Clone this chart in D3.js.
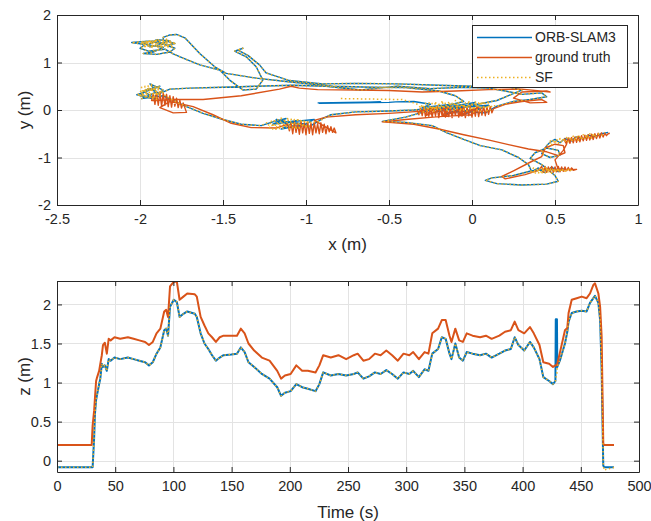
<!DOCTYPE html>
<html>
<head>
<meta charset="utf-8">
<script src="https://cdn.jsdelivr.net/npm/d3@7"></script>
<style>
  body { margin: 0; background: #fff; }
  svg { display: block; }
  text { font-family: "Liberation Sans", Arial, Helvetica, sans-serif; fill: #262626; }
</style>
</head>
<body>
<svg id="chart" width="651" height="521"></svg>
<script>
// ---- series names ----
const seriesNames = ["ORB-SLAM3", "ground truth", "SF"];

// ---- tick values ----
const xTicksTop = [-2.5, -2, -1.5, -1, -0.5, 0, 0.5, 1];
const yTicksTop = [-2, -1, 0, 1, 2];
const timeTicks = [0, 50, 100, 150, 200, 250, 300, 350, 400, 450, 500];
const zTicks = [0, 0.5, 1, 1.5, 2];

// ---- planar trajectory (x, y in metres) ----
const orbXY = [
  [-0.93,0.15],[-0.75,0.16],[-0.55,0.17],[-0.92,0.14],[-0.7,0.15],[-0.5,0.16],[-0.46,0.17],[-0.35,0.18],[-0.25,0.12],
  [-0.3,0.05],[-0.12,0.12],[-0.22,-0.04],[-0.02,0.08],[-0.16,-0.08],[0.06,0.04],[-0.06,-0.1],[0.1,0.1],[-0.26,0.0],[0.02,0.16],[-0.1,-0.02],[0.08,-0.06],
  [0.15,0.08],[0.25,0.18],[0.35,0.22],[0.45,0.28],[0.42,0.36],[0.3,0.33],[0.2,0.4],[0.1,0.46],
  [-0.05,0.48],[-0.25,0.45],[-0.45,0.5],[-0.67,0.42],[-0.88,0.5],[-1.08,0.52],[-1.3,0.5],[-1.5,0.48],[-1.7,0.46],[-1.82,0.44],
  [-1.88,0.35],[-1.95,0.45],[-2.0,0.3],[-1.9,0.22],[-1.98,0.4],[-1.88,0.5],[-2.02,0.32],[-1.92,0.26],[-1.86,0.42],[-1.94,0.55],[-1.9,0.38],[-1.99,0.24],[-1.86,0.3],
  [-1.8,0.2],[-1.72,0.07],[-1.62,-0.07],[-1.5,-0.2],[-1.39,-0.3],[-1.27,-0.33],[-1.2,-0.25],
  [-1.12,-0.18],[-1.2,-0.3],[-1.05,-0.22],[-1.15,-0.4],[-1.0,-0.3],[-1.1,-0.25],[-0.95,-0.2],[-1.05,-0.38],[-1.18,-0.2],[-0.98,-0.35],[-0.9,-0.18],
  [-0.85,-0.1],[-0.7,-0.04],[-0.5,-0.02],[-0.35,0.0],[-0.2,0.05],[0.0,0.1],[0.15,0.2],[0.3,0.42],[0.2,0.5],
  [0.0,0.5],[-0.2,0.52],[-0.45,0.55],[-0.7,0.56],[-0.9,0.55],[-1.1,0.62],[-1.24,0.78],[-1.28,0.95],[-1.35,1.15],[-1.41,1.26],[-1.38,1.3],[-1.43,1.24],
  [-1.36,1.12],[-1.3,0.91],[-1.26,0.63],[-1.3,0.44],[-1.38,0.42],[-1.46,0.63],[-1.52,0.84],[-1.64,0.95],[-1.74,1.09],[-1.8,1.18],
  [-1.85,1.28],[-1.95,1.24],[-2.0,1.3],[-1.97,1.38],[-2.05,1.42],[-1.95,1.45],[-1.87,1.4],[-1.82,1.46],[-1.9,1.48],[-1.95,1.37],[-1.86,1.32],[-1.92,1.22],
  [-1.98,1.19],[-1.9,1.17],[-1.82,1.22],[-1.79,1.3],[-1.86,1.39],[-1.94,1.33],[-1.98,1.43],[-1.9,1.46],[-1.84,1.36],[-1.79,1.4],[-1.86,1.47],
  [-1.86,1.53],[-1.82,1.58],[-1.78,1.59],[-1.73,1.52],[-1.64,1.19],[-1.55,0.91],[-1.48,0.77],[-1.3,0.67],[-1.12,0.6],[-0.84,0.5],[-0.6,0.48],[-0.4,0.47],
  [-0.2,0.4],[-0.1,0.3],[-0.05,0.18],[-0.2,0.05],[-0.4,-0.15],[-0.54,-0.24],[-0.4,-0.26],[-0.24,-0.33],[-0.15,-0.48],[-0.05,-0.62],[0.05,-0.75],[0.18,-0.84],[0.28,-1.0],[0.34,-1.15],
  [0.36,-1.3],[0.4,-1.22],[0.44,-1.32],[0.48,-1.2],[0.52,-1.3],[0.55,-1.24],[0.45,-1.26],[0.36,-1.28],
  [0.25,-1.38],[0.12,-1.43],[0.08,-1.48],[0.15,-1.55],[0.3,-1.58],[0.45,-1.56],[0.52,-1.5],[0.5,-1.38],
  [0.42,-1.15],[0.35,-1.02],[0.38,-0.9],[0.45,-0.8],[0.52,-0.85],[0.53,-0.95],[0.47,-1.0],[0.42,-0.92],[0.45,-0.75],[0.47,-0.68],
  [0.5,-0.62],[0.53,-0.69],[0.56,-0.6],[0.6,-0.65],[0.63,-0.56],[0.67,-0.61],[0.7,-0.53],[0.74,-0.56],[0.78,-0.5],[0.82,-0.47]
];

const truthXY = [
  [-0.33,0.0],[-0.32,-0.1],[-0.31,0.04],[-0.30,-0.12],[-0.29,0.05],[-0.28,-0.14],[-0.27,0.03],[-0.26,-0.13],[-0.25,0.06],[-0.24,-0.15],[-0.23,0.04],
  [-0.22,-0.12],[-0.21,0.07],[-0.20,-0.16],[-0.19,0.05],[-0.18,-0.13],[-0.17,0.08],[-0.16,-0.15],[-0.15,0.03],[-0.14,-0.14],[-0.13,0.07],[-0.12,-0.16],
  [-0.11,0.04],[-0.10,-0.12],[-0.09,0.08],[-0.08,-0.15],[-0.07,0.05],[-0.06,-0.13],[-0.05,0.09],[-0.04,-0.16],[-0.03,0.06],[-0.02,-0.12],[-0.01,0.08],
  [0.0,-0.15],[0.01,0.04],[0.02,-0.13],[0.03,0.07],[0.04,-0.14],[0.05,0.05],[0.06,-0.11],[0.07,0.08],[0.08,-0.12],[0.09,0.06],[0.10,-0.09],[0.11,0.07],
  [0.12,-0.06],[0.13,0.03],
  [0.2,0.12],[0.3,0.18],[0.42,0.22],[0.45,0.16],[0.35,0.15],[0.25,0.25],[0.3,0.38],[0.45,0.4],[0.47,0.38],[0.3,0.44],
  [0.1,0.43],[-0.1,0.4],[-0.3,0.38],[-0.5,0.41],[-0.7,0.42],[-0.93,0.43],[-1.04,0.46],[-1.09,0.5],[-1.16,0.44],[-1.39,0.3],[-1.62,0.22],[-1.8,0.22],
  [-1.93,0.2],[-1.92,0.34],[-1.91,0.12],[-1.90,0.36],[-1.89,0.1],[-1.88,0.38],[-1.87,0.08],[-1.86,0.35],[-1.85,0.1],[-1.84,0.33],[-1.83,0.07],
  [-1.82,0.3],[-1.81,0.06],[-1.80,0.28],[-1.79,0.08],[-1.78,0.25],[-1.77,0.05],[-1.76,0.2],[-1.75,0.04],[-1.74,0.15],
  [-1.72,-0.05],[-1.8,-0.06],[-1.88,0.05],[-1.82,0.18],
  [-1.68,0.07],[-1.56,-0.1],[-1.45,-0.28],[-1.33,-0.37],[-1.18,-0.38],
  [-1.11,-0.3],[-1.10,-0.44],[-1.09,-0.27],[-1.08,-0.5],[-1.07,-0.25],[-1.06,-0.47],[-1.05,-0.28],[-1.04,-0.51],[-1.03,-0.24],[-1.02,-0.48],
  [-1.01,-0.27],[-1.00,-0.52],[-0.99,-0.25],[-0.98,-0.49],[-0.97,-0.28],[-0.96,-0.52],[-0.95,-0.26],[-0.94,-0.48],[-0.93,-0.29],[-0.92,-0.5],
  [-0.91,-0.27],[-0.90,-0.47],[-0.89,-0.3],[-0.88,-0.5],[-0.87,-0.33],[-0.86,-0.46],[-0.85,-0.35],[-0.84,-0.47],[-0.83,-0.38],[-0.82,-0.48],
  [-0.95,-0.22],[-0.88,-0.15],[-0.7,-0.1],[-0.5,-0.07],[-0.32,-0.03],
  [-0.22,0.05],[-0.28,-0.12],[-0.14,0.06],[-0.18,-0.14],[-0.05,0.04],[-0.08,-0.12],[0.04,0.06],[0.0,-0.1],[-0.2,-0.14],
  [-0.4,-0.2],[-0.54,-0.25],[-0.35,-0.3],[-0.2,-0.4],[-0.05,-0.52],[0.11,-0.64],[0.22,-0.73],[0.34,-0.82],[0.45,-0.88],[0.52,-0.96],
  [0.56,-0.9],[0.55,-0.75],[0.5,-0.72],[0.44,-0.8],[0.42,-0.98],[0.35,-1.1],[0.25,-1.28],[0.18,-1.4],[0.2,-1.45],[0.32,-1.36],[0.4,-1.27],
  [0.42,-1.19],[0.43,-1.31],[0.44,-1.19],[0.45,-1.31],[0.46,-1.2],[0.47,-1.3],[0.48,-1.19],[0.49,-1.31],[0.50,-1.2],[0.51,-1.3],[0.52,-1.19],
  [0.53,-1.3],[0.54,-1.2],[0.55,-1.29],[0.56,-1.2],[0.57,-1.28],[0.58,-1.21],[0.59,-1.28],[0.60,-1.22],[0.61,-1.27],[0.63,-1.25],[0.52,-1.26],
  [0.5,-1.05],[0.55,-0.85],[0.57,-0.72],[0.56,-0.66],
  [0.56,-0.6],[0.57,-0.71],[0.58,-0.59],[0.59,-0.7],[0.60,-0.58],[0.61,-0.69],[0.62,-0.57],[0.63,-0.68],[0.64,-0.55],[0.65,-0.67],[0.66,-0.54],
  [0.67,-0.65],[0.68,-0.53],[0.69,-0.64],[0.70,-0.52],[0.71,-0.63],[0.72,-0.51],[0.73,-0.62],[0.74,-0.5],[0.75,-0.6],[0.76,-0.49],[0.77,-0.59],
  [0.78,-0.48],[0.79,-0.57],[0.80,-0.49],[0.81,-0.54],[0.82,-0.5],[0.83,-0.49]
];

const sfXY = [
  [-0.79,0.24],[-0.6,0.23],[-0.42,0.22],[-0.34,0.14],
  [-0.32,0.1],[-0.31,0.04],[-0.30,0.12],[-0.29,0.03],[-0.28,0.14],[-0.27,0.0],[-0.26,0.17],[-0.25,0.02],[-0.24,0.14],[-0.23,-0.03],[-0.22,0.18],
  [-0.21,0.0],[-0.20,0.15],[-0.19,-0.02],[-0.18,0.2],[-0.17,0.02],[-0.16,0.16],[-0.15,-0.04],[-0.14,0.18],[-0.13,0.0],[-0.12,0.14],[-0.11,-0.03],
  [-0.10,0.2],[-0.09,0.02],[-0.08,0.16],[-0.07,-0.04],[-0.06,0.18],[-0.05,0.0],[-0.04,0.15],[-0.03,-0.02],[-0.02,0.2],[-0.01,0.02],[0.0,0.16],
  [0.01,-0.04],[0.02,0.19],[0.03,0.0],[0.04,0.15],[0.05,-0.03],[0.06,0.18],[0.07,0.02],[0.08,0.14],[0.09,-0.02],[0.10,0.16],[0.11,0.0],[0.12,0.1],
  [0.15,0.08],[0.25,0.18],[0.35,0.22],[0.45,0.28],[0.42,0.36],[0.3,0.33],[0.2,0.4],[0.1,0.46],
  [-0.05,0.48],[-0.25,0.45],[-0.45,0.5],[-0.67,0.42],[-0.88,0.5],[-1.08,0.52],[-1.3,0.5],[-1.5,0.48],[-1.7,0.46],[-1.82,0.44],
  [-1.88,0.35],[-1.95,0.45],[-2.0,0.3],[-1.9,0.22],[-1.98,0.4],[-1.88,0.5],[-2.02,0.32],[-1.92,0.26],[-1.86,0.42],[-1.94,0.55],[-1.9,0.38],[-1.99,0.24],
  [-2.0,0.34],[-1.99,0.48],[-1.98,0.28],[-1.97,0.5],[-1.96,0.3],[-1.95,0.52],[-1.94,0.27],[-1.93,0.5],[-1.92,0.3],[-1.91,0.47],[-1.90,0.26],
  [-1.89,0.44],[-1.88,0.3],[-1.87,0.42],[-1.86,0.33],
  [-1.8,0.2],[-1.72,0.07],[-1.62,-0.07],[-1.5,-0.2],[-1.39,-0.3],[-1.27,-0.33],
  [-1.23,-0.26],[-1.22,-0.38],[-1.21,-0.22],[-1.20,-0.4],[-1.19,-0.19],[-1.18,-0.42],[-1.17,-0.2],[-1.16,-0.39],[-1.15,-0.17],[-1.14,-0.41],
  [-1.13,-0.19],[-1.12,-0.38],[-1.11,-0.16],[-1.10,-0.4],[-1.09,-0.18],[-1.08,-0.37],[-1.07,-0.2],[-1.06,-0.41],[-1.05,-0.17],[-1.04,-0.38],
  [-1.03,-0.19],[-1.02,-0.36],[-1.01,-0.2],[-1.00,-0.38],[-0.99,-0.22],[-0.98,-0.34],[-0.97,-0.25],[-0.93,-0.25],
  [-0.85,-0.1],[-0.7,-0.04],[-0.5,-0.02],[-0.35,0.0],[-0.2,0.05],[0.0,0.1],[0.15,0.2],[0.3,0.42],[0.2,0.5],
  [0.0,0.5],[-0.2,0.52],[-0.45,0.55],[-0.7,0.56],[-0.9,0.55],[-1.1,0.62],[-1.24,0.78],[-1.28,0.95],[-1.35,1.15],[-1.41,1.26],[-1.38,1.3],[-1.43,1.24],
  [-1.36,1.12],[-1.3,0.91],[-1.26,0.63],[-1.3,0.44],[-1.38,0.42],[-1.46,0.63],[-1.52,0.84],[-1.64,0.95],[-1.74,1.09],[-1.8,1.18],
  [-1.85,1.28],[-1.95,1.24],[-2.0,1.3],[-1.97,1.38],[-2.05,1.42],[-1.95,1.45],[-1.87,1.4],[-1.82,1.46],[-1.9,1.48],[-1.95,1.37],[-1.86,1.32],[-1.92,1.22],
  [-1.98,1.19],[-1.9,1.17],[-1.82,1.22],[-1.79,1.3],[-1.86,1.39],[-1.94,1.33],[-1.98,1.43],[-1.9,1.46],[-1.84,1.36],[-1.79,1.4],[-1.86,1.47],
  [-1.99,1.38],[-1.98,1.46],[-1.97,1.3],[-1.96,1.47],[-1.95,1.32],[-1.94,1.48],[-1.93,1.29],[-1.92,1.46],[-1.91,1.33],[-1.90,1.48],[-1.89,1.3],
  [-1.88,1.45],[-1.87,1.32],[-1.86,1.47],[-1.85,1.34],[-1.84,1.45],[-1.83,1.31],[-1.82,1.44],[-1.81,1.35],[-1.80,1.42],[-1.79,1.38],
  [-1.86,1.53],[-1.82,1.58],[-1.78,1.59],[-1.73,1.52],[-1.64,1.19],[-1.55,0.91],[-1.48,0.77],[-1.3,0.67],[-1.12,0.6],[-0.84,0.5],[-0.6,0.48],[-0.4,0.47],
  [-0.2,0.4],[-0.1,0.3],[-0.05,0.18],[-0.2,0.05],[-0.4,-0.15],[-0.54,-0.24],[-0.4,-0.26],[-0.24,-0.33],[-0.15,-0.48],[-0.05,-0.62],[0.05,-0.75],[0.18,-0.84],[0.28,-1.0],[0.34,-1.15],
  [0.35,-1.23],[0.36,-1.34],[0.37,-1.22],[0.38,-1.35],[0.39,-1.22],[0.40,-1.34],[0.41,-1.23],[0.42,-1.35],[0.43,-1.22],[0.44,-1.34],[0.45,-1.23],
  [0.46,-1.33],[0.47,-1.22],[0.48,-1.33],[0.49,-1.23],[0.50,-1.32],[0.51,-1.23],[0.52,-1.31],[0.53,-1.24],[0.54,-1.3],[0.55,-1.24],[0.56,-1.29],
  [0.58,-1.25],[0.6,-1.27],[0.45,-1.26],[0.36,-1.28],
  [0.25,-1.38],[0.12,-1.43],[0.08,-1.48],[0.15,-1.55],[0.3,-1.58],[0.45,-1.56],[0.52,-1.5],[0.5,-1.38],
  [0.42,-1.15],[0.35,-1.02],[0.38,-0.9],[0.45,-0.8],[0.52,-0.85],[0.53,-0.95],[0.47,-1.0],[0.42,-0.92],[0.45,-0.75],[0.47,-0.7],
  [0.47,-0.63],[0.48,-0.73],[0.49,-0.62],[0.50,-0.71],[0.51,-0.61],[0.52,-0.7],[0.53,-0.6],[0.54,-0.69],[0.55,-0.59],[0.56,-0.68],[0.57,-0.58],
  [0.58,-0.67],[0.59,-0.56],[0.60,-0.66],[0.61,-0.55],[0.62,-0.65],[0.63,-0.54],[0.64,-0.64],[0.65,-0.53],[0.66,-0.63],[0.67,-0.52],[0.68,-0.62],
  [0.69,-0.51],[0.70,-0.6],[0.71,-0.5],[0.72,-0.59],[0.73,-0.49],[0.74,-0.58],[0.76,-0.5],[0.78,-0.54],[0.8,-0.47]
];

// ---- height over time ----
const timeS = [
  0, 29.8, 30.6, 31.9, 32.6, 33.6, 34.5, 36.2, 37.2, 38.5, 39.5, 41.1, 42.8, 44.4, 46.1, 49.4, 54.3, 60.9, 65.8, 70.7,
  75.7, 79.0, 82.3, 85.5, 88.8, 92.1, 93.8, 95.4, 97.1, 100.3, 103.0, 105.3, 108.6, 111.9, 118.4, 120.1, 123.4, 126.7, 130.0, 133.2,
  136.5, 139.8, 143.1, 149.7, 154.6, 157.9, 161.2, 164.5, 169.4, 176.0, 182.6, 189.2, 192.5, 195.8, 200.7, 205.6, 210.6, 215.5, 222.1, 225.4,
  228.7, 235.2, 241.8, 248.4, 255.0, 258.3, 263.2, 268.1, 273.1, 278.0, 282.9, 287.9, 292.8, 297.7, 302.7, 306.0, 310.9, 315.8, 319.1, 322.4,
  327.4, 330.6, 333.9, 337.2, 338.9, 342.2, 345.5, 348.7, 352.0, 357.0, 363.5, 368.5, 373.4, 380.0, 384.9, 389.9, 393.2, 396.4, 401.4, 406.3,
  409.6, 414.5, 417.8, 422.8, 426.1, 428.2, 428.5, 429.5, 429.8, 432.0, 436.4, 438.4, 439.5, 442.2, 446.5, 450.8, 455.0, 457.9, 460.8, 462.2,
  465.1, 466.6, 467.9, 469.3, 470.0, 478.5
];
const truthZ = [
  0.2, 0.2, 0.45, 0.64, 0.8, 1.02, 1.07, 1.15, 1.24, 1.35, 1.48, 1.51, 1.37, 1.56, 1.54, 1.58, 1.56, 1.58, 1.56, 1.54,
  1.52, 1.48, 1.52, 1.63, 1.69, 1.91, 1.93, 1.84, 2.23, 2.29, 2.29, 2.06, 2.10, 2.14, 2.13, 2.10, 1.84, 1.73, 1.63, 1.58,
  1.52, 1.58, 1.60, 1.60, 1.60, 1.69, 1.63, 1.50, 1.41, 1.32, 1.28, 1.15, 1.05, 1.09, 1.11, 1.22, 1.15, 1.15, 1.13, 1.22,
  1.35, 1.32, 1.35, 1.30, 1.35, 1.37, 1.28, 1.30, 1.37, 1.35, 1.41, 1.35, 1.28, 1.37, 1.35, 1.39, 1.30, 1.39, 1.37, 1.63,
  1.69, 1.80, 1.80, 1.60, 1.52, 1.69, 1.54, 1.52, 1.63, 1.60, 1.58, 1.60, 1.56, 1.60, 1.65, 1.67, 1.78, 1.67, 1.63, 1.71,
  1.63, 1.48, 1.26, 1.24, 1.20, 1.22, 1.22, 1.22, 1.24, 1.38, 1.67, 1.70, 1.89, 2.06, 2.08, 2.10, 2.08, 2.14, 2.25, 2.27,
  2.14, 1.97, 1.59, 0.22, 0.2, 0.2
];
const orbZ = [
  -0.085, -0.085, -0.085, 0.29, 0.6, 0.78, 0.85, 0.98, 1.05, 1.24, 1.2, 1.22, 1.15, 1.30, 1.28, 1.32, 1.30, 1.32, 1.30, 1.28,
  1.26, 1.22, 1.26, 1.37, 1.45, 1.67, 1.69, 1.60, 1.97, 2.06, 2.03, 1.84, 1.88, 1.91, 1.88, 1.84, 1.63, 1.50, 1.43, 1.35,
  1.28, 1.32, 1.35, 1.36, 1.37, 1.45, 1.39, 1.26, 1.20, 1.11, 1.05, 0.94, 0.83, 0.87, 0.89, 0.98, 0.94, 0.92, 0.89, 0.98,
  1.13, 1.09, 1.11, 1.09, 1.11, 1.13, 1.05, 1.08, 1.13, 1.11, 1.16, 1.11, 1.05, 1.13, 1.11, 1.15, 1.07, 1.17, 1.15, 1.37,
  1.43, 1.58, 1.56, 1.37, 1.30, 1.50, 1.32, 1.28, 1.39, 1.37, 1.35, 1.37, 1.32, 1.37, 1.41, 1.43, 1.58, 1.48, 1.41, 1.52,
  1.45, 1.30, 1.07, 1.02, 0.98, 1.02, 1.81, 1.81, 1.20, 1.28, 1.50, 1.65, 1.78, 1.89, 1.91, 1.92, 1.91, 2.02, 2.08, 2.11,
  2.02, 1.80, 1.16, -0.06, -0.085, -0.085
];
const sfZ = [
  -0.085, -0.085, -0.085, 0.29, 0.6, 0.78, 0.85, 0.98, 1.05, 1.24, 1.2, 1.22, 1.15, 1.30, 1.28, 1.32, 1.30, 1.32, 1.30, 1.28,
  1.26, 1.22, 1.26, 1.37, 1.45, 1.67, 1.69, 1.60, 1.97, 2.06, 2.03, 1.84, 1.88, 1.91, 1.88, 1.84, 1.63, 1.50, 1.43, 1.35,
  1.28, 1.32, 1.35, 1.36, 1.37, 1.45, 1.39, 1.26, 1.20, 1.11, 1.05, 0.94, 0.83, 0.87, 0.89, 0.98, 0.94, 0.92, 0.89, 0.98,
  1.13, 1.09, 1.11, 1.09, 1.11, 1.13, 1.05, 1.08, 1.13, 1.11, 1.16, 1.11, 1.05, 1.13, 1.11, 1.15, 1.07, 1.17, 1.15, 1.37,
  1.43, 1.58, 1.56, 1.37, 1.30, 1.50, 1.32, 1.28, 1.39, 1.37, 1.35, 1.37, 1.32, 1.37, 1.41, 1.43, 1.58, 1.48, 1.41, 1.52,
  1.45, 1.30, 1.07, 1.02, 0.98, 1.02, 1.06, 1.12, 1.20, 1.28, 1.50, 1.65, 1.78, 1.89, 1.91, 1.92, 1.91, 2.02, 2.08, 2.11,
  2.02, 1.80, 1.16, -0.06, -0.12, -0.085
];

// ---- drawing ----
const COLORS = { orb: "#0072BD", truth: "#D95319", sf: "#EDB120" };
const svg = d3.select("#chart");

const topX = d3.scaleLinear().domain([-2.5, 1]).range([57, 638]);
const topY = d3.scaleLinear().domain([-2, 2]).range([205, 15]);
const botX = d3.scaleLinear().domain([0, 500]).range([57, 639]);
const botY = d3.scaleLinear().domain([-0.145, 2.3]).range([472, 281]);

// background grid and clip region for one panel
function frame(g, x, y, xt, yt, clipId) {
  const [x0, x1] = x.range(), [y0, y1] = y.range();
  const grid = g.append("g").attr("class", "grid");
  grid.selectAll("line.gx").data(xt).join("line")
    .attr("x1", d => Math.round(x(d)) + 0.5).attr("x2", d => Math.round(x(d)) + 0.5)
    .attr("y1", y1).attr("y2", y0).attr("stroke", "#e3e3e3").attr("stroke-width", 1);
  grid.selectAll("line.gy").data(yt).join("line")
    .attr("y1", d => Math.round(y(d)) + 0.5).attr("y2", d => Math.round(y(d)) + 0.5)
    .attr("x1", x0).attr("x2", x1).attr("stroke", "#e3e3e3").attr("stroke-width", 1);
  g.append("clipPath").attr("id", clipId).append("rect")
    .attr("x", x0).attr("y", y1).attr("width", x1 - x0).attr("height", y0 - y1);
}

// boxed axes with inward ticks on all four sides, plus axis titles
function axesOnTop(g, x, y, xt, yt, xLabel, yLabel, labelY) {
  const [x0, x1] = x.range(), [y0, y1] = y.range();
  const fmt = d => String(d);
  const style = sel => {
    sel.selectAll("path.domain").attr("stroke", "#262626");
    sel.selectAll(".tick line").attr("stroke", "#262626");
    sel.selectAll(".tick text").attr("font-size", "14.5px").attr("fill", "#262626")
      .attr("font-family", "'Liberation Sans', Arial, sans-serif");
  };
  g.append("g").attr("transform", `translate(0,${y0})`)
    .call(d3.axisBottom(x).tickValues(xt).tickFormat(fmt).tickSizeInner(-5).tickSizeOuter(0).tickPadding(9)).call(style);
  g.append("g").attr("transform", `translate(0,${y1})`)
    .call(d3.axisTop(x).tickValues(xt).tickFormat("").tickSizeInner(-5).tickSizeOuter(0)).call(style);
  g.append("g").attr("transform", `translate(${x0},0)`)
    .call(d3.axisLeft(y).tickValues(yt).tickFormat(fmt).tickSizeInner(-5).tickSizeOuter(0).tickPadding(6)).call(style);
  g.append("g").attr("transform", `translate(${x1},0)`)
    .call(d3.axisRight(y).tickValues(yt).tickFormat("").tickSizeInner(-5).tickSizeOuter(0)).call(style);
  g.append("text").attr("x", (x0 + x1) / 2).attr("y", labelY)
    .attr("text-anchor", "middle").attr("font-size", "17px").text(xLabel);
  g.append("text").attr("transform", `translate(30,${(y0 + y1) / 2}) rotate(-90)`)
    .attr("text-anchor", "middle").attr("font-size", "17px").text(yLabel);
}

function drawSeries(g, clipId, pts, fx, fy, color, width, dotted) {
  const line = d3.line().x(fx).y(fy);
  g.append("path").datum(pts)
    .attr("clip-path", `url(#${clipId})`)
    .attr("d", line)
    .attr("fill", "none")
    .attr("stroke", color)
    .attr("stroke-width", width)
    .attr("stroke-linejoin", "round")
    .attr("stroke-dasharray", dotted ? "1.5,2.5" : null);
}

// top panel: x-y trajectory
const gTop = svg.append("g");
frame(gTop, topX, topY, xTicksTop, yTicksTop, "clipTop");
drawSeries(gTop, "clipTop", orbXY, d => topX(d[0]), d => topY(d[1]), COLORS.orb, 1.4, false);
drawSeries(gTop, "clipTop", truthXY, d => topX(d[0]), d => topY(d[1]), COLORS.truth, 1.4, false);
drawSeries(gTop, "clipTop", sfXY, d => topX(d[0]), d => topY(d[1]), COLORS.sf, 1.5, true);
axesOnTop(gTop, topX, topY, xTicksTop, yTicksTop, "x (m)", "y (m)", 250);

// bottom panel: height over time
const gBot = svg.append("g");
frame(gBot, botX, botY, timeTicks, zTicks, "clipBot");
const idx = d3.range(timeS.length);
drawSeries(gBot, "clipBot", idx, i => botX(timeS[i]), i => botY(orbZ[i]), COLORS.orb, 2, false);
drawSeries(gBot, "clipBot", idx, i => botX(timeS[i]), i => botY(truthZ[i]), COLORS.truth, 2, false);
drawSeries(gBot, "clipBot", idx, i => botX(timeS[i]), i => botY(sfZ[i]), COLORS.sf, 1.5, true);
axesOnTop(gBot, botX, botY, timeTicks, zTicks, "Time (s)", "z (m)", 518);

// legend
const legend = svg.append("g").attr("transform", "translate(472,25)");
legend.append("rect").attr("x", 0.5).attr("y", 0.5).attr("width", 155).attr("height", 62)
  .attr("fill", "#fff").attr("stroke", "#262626").attr("stroke-width", 1);
const legendColors = [COLORS.orb, COLORS.truth, COLORS.sf];
seriesNames.forEach((name, i) => {
  const yy = 12.5 + i * 20;
  legend.append("line").attr("x1", 5).attr("x2", 60).attr("y1", yy).attr("y2", yy)
    .attr("stroke", legendColors[i]).attr("stroke-width", 1.4)
    .attr("stroke-dasharray", i === 2 ? "1.5,2.5" : null);
  legend.append("text").attr("x", 63).attr("y", yy).attr("dy", "0.35em")
    .attr("font-size", "14px").text(name);
});
</script>
</body>
</html>
